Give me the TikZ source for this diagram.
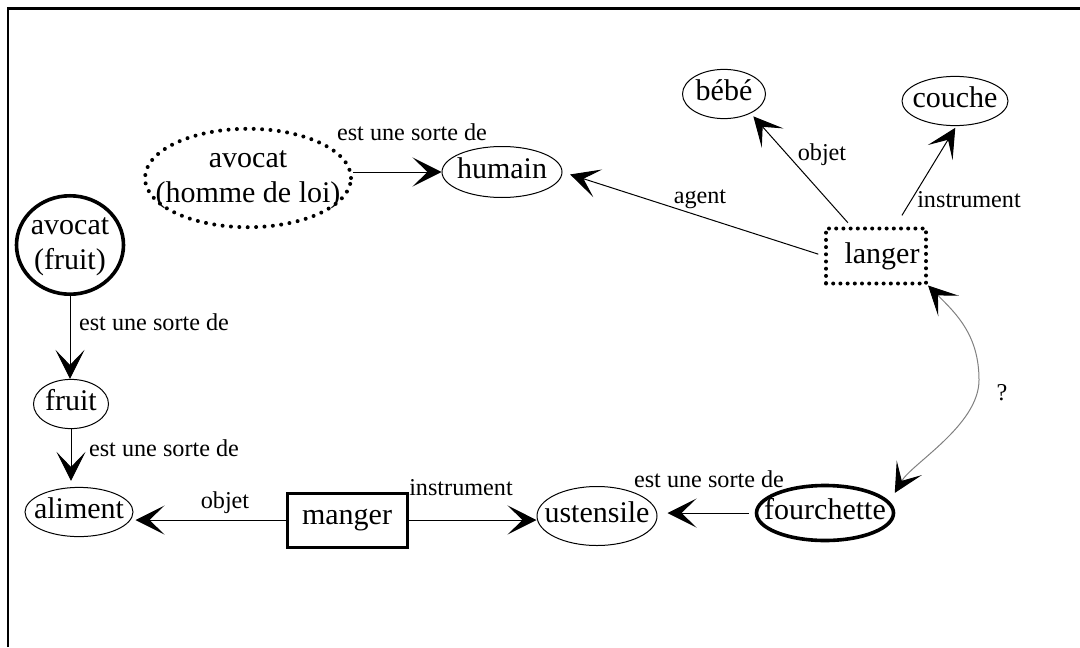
\documentclass[tikz,border=0pt]{standalone}
\usepackage{fontspec}
\setmainfont{Liberation Serif}
\usetikzlibrary{arrows.meta,shapes.geometric}

% text placed in an ellipse without widening it
\newcommand\cwrap[1]{\makebox[0pt]{\begin{tabular}{@{}c@{}}#1\end{tabular}}}

\begin{document}
\begin{tikzpicture}[x=0.5pt,y=-0.5pt,
  concept/.style={ellipse,draw,line width=0.5pt,inner sep=0pt,
    font=\fontsize{15}{17.4}\selectfont},
  strong/.style={line width=1.8pt},
  dotline/.style={line width=2pt,line cap=round,dash pattern=on 0pt off 4.2pt},
  boxdots/.style={line width=2pt,line cap=round,dash pattern=on 0pt off 3.6pt},
  relbox/.style={rectangle,draw,inner sep=0pt,font=\fontsize{15}{17.4}\selectfont},
  lbl/.style={inner sep=0pt,font=\fontsize{12.1}{14.5}\selectfont},
  rel/.style={draw,line width=0.5pt,-{Stealth[length=14.5pt,width=14.5pt,inset=7.5pt]}},
]
\useasboundingbox (0,0) rectangle (1080,647);

% frame
\draw[line width=1.25pt] (8,647) -- (8,8.5) -- (1080,8.5);

% concepts and relations
\node[concept,dotline,minimum width=103pt,minimum height=45pt] (loi) at (248,178) {\cwrap{avocat\\(homme de loi)}};
\node[concept,minimum width=60pt,minimum height=25.5pt] (humain) at (502,172) {\cwrap{humain}};
\node[concept,minimum width=41.5pt,minimum height=21.5pt] (bebe) at (724,94) {\cwrap{bébé}};
\node[concept,minimum width=53pt,minimum height=22pt] (couche) at (955,101) {\cwrap{couche}};
\node[relbox,boxdots,minimum width=50pt,minimum height=27.5pt] (langer) at (876,256) {\hspace{6pt}langer};
\node[concept,strong,minimum width=53.5pt,minimum height=47pt] (avfruit) at (70,245) {\cwrap{avocat\\(fruit)}};
\node[concept,minimum width=37.5pt,minimum height=24pt] (fruit) at (71,404) {\cwrap{fruit}};
\node[concept,minimum width=54pt,minimum height=18.5pt] (aliment) at (79,512) {\cwrap{aliment}};
\node[relbox,line width=1.5pt,minimum width=60pt,minimum height=27pt] (manger) at (347,520) {manger};
\node[concept,minimum width=60pt,minimum height=29.5pt] (ustensile) at (597,516) {\cwrap{ustensile}};
\node[concept,strong,minimum width=68.5pt,minimum height=27.5pt] (fourchette) at (825,513) {\cwrap{fourchette}};

% links
\draw[rel] (loi.east |- humain.west) -- (humain.west);
\draw[rel,shorten <=3pt,shorten >=4pt] (langer.west) -- (humain.east);
\draw[rel,shorten <=2.5pt,shorten >=2pt] (langer.130) -- (bebe.-36);
\draw[rel,shorten <=6.5pt,shorten >=1pt] (langer.57) -- (couche.-87);
\draw[rel] (avfruit.south) -- (avfruit.south |- fruit.north);
\draw[rel,shorten >=3pt] (fruit.south) -- (fruit.south |- aliment.north);
\draw[rel,shorten >=1pt] (manger.west) -- (manger.west -| aliment.east);
\draw[rel] (manger.east) -- (manger.east -| ustensile.west);
\draw[rel,shorten <=3pt,shorten >=5pt] (fourchette.west) -- (fourchette.west -| ustensile.east);

% open question between langer and fourchette
\coordinate (bend) at (979,380);
\draw[line width=0.5pt,gray,
  {Stealth[color=black,length=14.5pt,width=14.5pt,inset=7.5pt]}-{Stealth[color=black,length=14.5pt,width=14.5pt,inset=7.5pt]},
  shorten >=5pt]
  (langer.south east) .. controls +(28,28) and +(0,-45) .. (bend)
  .. controls +(0,45) and +(22,-38) .. (fourchette.10);

% link labels
\node[lbl] (l1) at (412,132) {est une sorte de};
\node[lbl] (l2) at (700,199) {agent};
\node[lbl] (l3) at (822,155) {objet};
\node[lbl] (l4) at (969,200) {instrument};
\node[lbl] (l5) at (154,322) {est une sorte de};
\node[lbl] (l6) at (164,448) {est une sorte de};
\node[lbl] (l7) at (225,503) {objet};
\node[lbl] (l8) at (461,488) {instrument};
\node[lbl] (l9) at (709,479) {est une sorte de};
\node[lbl] (l10) at (1002,393) {?};
\end{tikzpicture}
\end{document}
